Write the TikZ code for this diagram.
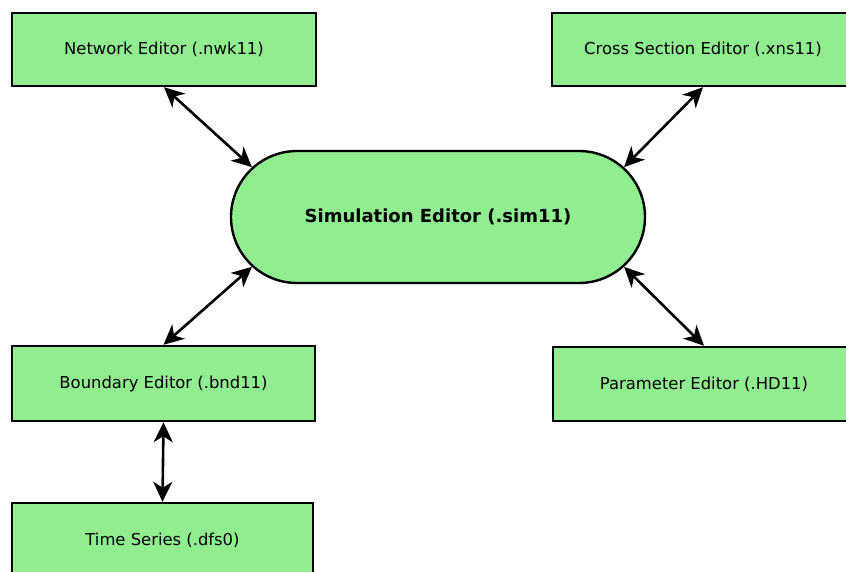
\documentclass[tikz,border=0pt]{standalone}
\usepackage{fontspec}
\setmainfont{DejaVu Sans}
\usetikzlibrary{shapes.misc,arrows.meta}
\definecolor{boxgreen}{HTML}{90EE90}
\tikzset{
  box/.style={draw=black, line width=2.4pt, fill=boxgreen, rectangle, inner sep=0pt,
    font=\fontsize{16.4}{20}\selectfont},
  simbox/.style={draw=black, line width=2.4pt, fill=boxgreen, rounded rectangle, inner sep=0pt,
    minimum width=414pt, minimum height=132pt, font=\bfseries\fontsize{18}{22}\selectfont},
  tip/.style={Stealth[length=20pt,width=19pt,inset=6pt]},
  link/.style={line width=2.6pt, {Stealth[length=20pt,width=19pt,inset=6pt]}-{Stealth[length=20pt,width=19pt,inset=6pt]}}
}
\begin{document}
\begin{tikzpicture}[x=1pt,y=-1pt]
\useasboundingbox (0,0) rectangle (846,571);
\clip (0,0) rectangle (846,571);
\node[box, minimum width=304pt, minimum height=73pt] (net) at (164,49.5) {Network Editor (.nwk11)};
\node[box, minimum width=302pt, minimum height=73pt] (xns) at (703,49.5) {Cross Section Editor (.xns11)};
\node[simbox] (sim) at (438,217) {Simulation Editor (.sim11)};
\node[box, minimum width=303pt, minimum height=75pt] (bnd) at (163.5,383.5) {Boundary Editor (.bnd11)};
\node[box, minimum width=302pt, minimum height=74pt] (par) at (704,384) {Parameter Editor (.HD11)};
\node[box, minimum width=301pt, minimum height=74pt] (ts) at (162.5,540) {Time Series (.dfs0)};
\draw[link] (net.south) -- (sim.165);
\draw[link] (xns.south) -- (sim.15);
\draw[link] (bnd.north) -- (sim.195);
\draw[link] (par.north) -- (sim.-15);
\draw[link] (bnd.south) -- (ts.north);
\end{tikzpicture}
\end{document}
